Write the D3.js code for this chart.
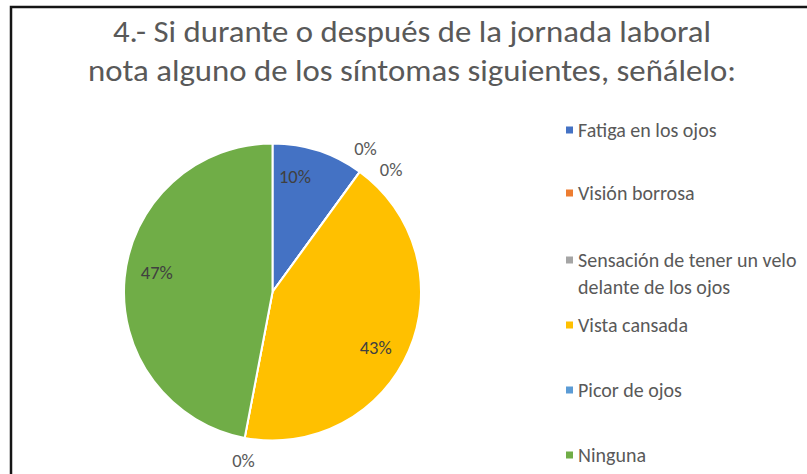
<!DOCTYPE html>
<html>
<head>
<meta charset="utf-8">
<script src="https://cdn.jsdelivr.net/npm/d3@7"></script>
<style>
  body{margin:0;background:#fff;}
  svg{display:block;font-family:Carlito,Calibri,Lato,sans-serif;}
</style>
</head>
<body>
<svg width="807" height="474"></svg>
<script>
const categories=['Fatiga en los ojos','Visión borrosa','Sensación de tener un velo delante de los ojos','Vista cansada','Picor de ojos','Ninguna'];
const values=[10,0,0,43,0,47];
const legendLines=[['Fatiga en los ojos'],['Visión borrosa'],['Sensación de tener un velo','delante de los ojos'],['Vista cansada'],['Picor de ojos'],['Ninguna']];
const colors=['#4472C4','#ED7D31','#A5A5A5','#FFC000','#5B9BD5','#70AD47'];
const titleLines=['4.- Si durante o después de la jornada laboral','nota alguno de los síntomas siguientes, señálelo:'];

const svg=d3.select('svg');
const textColor='#595959';

// frame (cropped screenshot of a chart box)
svg.append('rect')
  .attr('x',11).attr('y',7)
  .attr('width',820).attr('height',500)
  .attr('fill','none')
  .attr('stroke','#151515')
  .attr('stroke-width',2.5);

svg.selectAll('.title')
  .data(titleLines)
  .enter()
  .append('text')
  .classed('title',true)
  .attr('x',412)
  .attr('y',(d,i)=>42+i*39)
  .attr('text-anchor','middle')
  .attr('fill',textColor)
  .style('font-size','30px')
  .style('font-weight',300)
  .attr('textLength',(d,i)=>i==0?598:648)
  .attr('lengthAdjust','spacingAndGlyphs')
  .text(d=>d);

const cx=272.5, cy=292, R=148.5;
const data=categories.map((c,i)=>({name:c,value:values[i],color:colors[i]}));

const pie=d3.pie().sort(null).value(d=>d.value);
const arcs=pie(data);
const arc=d3.arc().innerRadius(0).outerRadius(R);

const g=svg.append('g').attr('transform',`translate(${cx},${cy})`);

g.selectAll('.slice')
  .data(arcs)
  .enter()
  .append('path')
  .classed('slice',true)
  .attr('d',arc)
  .attr('fill',d=>d.data.color)
  .attr('stroke','#fff')
  .attr('stroke-width',2);

// label angle nudges for stacked zero labels
const nudge=[-7,-3,8,5,-1,4];
g.selectAll('.lbl')
  .data(arcs)
  .enter()
  .append('text')
  .classed('lbl',true)
  .attr('transform',(d,i)=>{
    let a=(d.startAngle+d.endAngle)/2+nudge[i]*Math.PI/180;
    let r=d.value==0?R*1.15:R*0.79;
    return `translate(${Math.sin(a)*r},${-Math.cos(a)*r})`;
  })
  .attr('text-anchor','middle')
  .attr('dy','0.35em')
  .attr('fill',d=>d.value==0?textColor:'#404040')
  .style('font-size','18.5px')
  .text(d=>d.value+'%');

const rowY=[130,193,260,325,390,455];
const legend=svg.selectAll('.leg')
  .data(data)
  .enter()
  .append('g')
  .classed('leg',true)
  .attr('transform',(d,i)=>`translate(566,${rowY[i]})`);

legend.append('rect')
  .attr('x',0).attr('y',-3.5)
  .attr('width',7).attr('height',7)
  .attr('fill',d=>d.color);

legend.append('text')
  .attr('fill',textColor)
  .style('font-size','20px')
  .selectAll('tspan')
  .data((d,i)=>legendLines[i])
  .enter()
  .append('tspan')
  .attr('x',12)
  .attr('y',(d,j)=>7+j*27)
  .text(d=>d);
</script>
</body>
</html>
